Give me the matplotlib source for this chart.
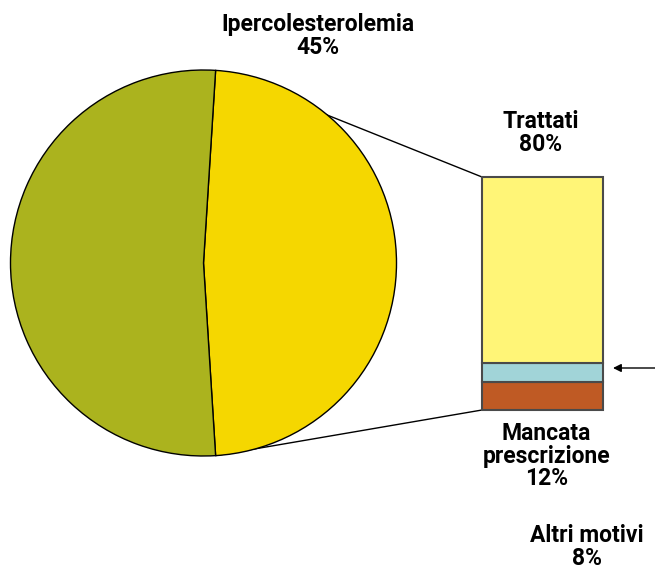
import matplotlib
matplotlib.use("Agg")
import matplotlib.pyplot as plt
from matplotlib.patches import ConnectionPatch
import numpy as np

plt.rcParams['font.family'] = ['Roboto', 'DejaVu Sans']

# Data
pie_labels = ["Ipercolesterolemia", "Altro"]
pie_values = [48, 52]          # drawn share of the wedge
pie_colors = ["#F5D700", "#ABB31E"]
pie_label_text = "Ipercolesterolemia\n45%"

bar_labels = ["Mancata prescrizione", "Altri motivi", "Trattati"]
bar_values = [12, 8, 80]
bar_colors = ["#BF5A24", "#A1D4D8", "#FFF577"]
bar_texts = ["Mancata\nprescrizione\n12%", "Altri motivi\n8%", "Trattati\n80%"]

W, H = 655, 570
fig = plt.figure(figsize=(W / 100, H / 100), dpi=100)

# Pie axes in pixel coordinates (y up)
ax1 = fig.add_axes([0, 0, 1, 1])
ax1.axis('off')

cx, cy, r = 203.5, H - 263, 193
start = -pie_values[0] / 100 * 180
wedges, _ = ax1.pie(pie_values, colors=pie_colors, startangle=start,
                    center=(cx, cy), radius=r, counterclock=True,
                    wedgeprops=dict(edgecolor='black', linewidth=1.0))
ax1.set_xlim(0, W)
ax1.set_ylim(0, H)
ax1.set_aspect('equal')

# Bar axes
bl, bt, bw, bh = 482, 177, 121, 233
ax2 = fig.add_axes([bl / W, (H - bt - bh) / H, bw / W, bh / H])
bottom = 0
for v, c in zip(bar_values, bar_colors):
    ax2.bar(0, v, width=1, bottom=bottom, color=c, edgecolor='#4a4a4a',
            linewidth=1.5, clip_on=False)
    bottom += v
ax2.set_xlim(-0.5, 0.5)
ax2.set_ylim(0, sum(bar_values))
ax2.axis('off')

# Connection lines (drawn behind the pie)
w = wedges[0]
theta1, theta2 = w.theta1, w.theta2
for th, yb in ((theta2, sum(bar_values)), (theta1, 0)):
    x = r * np.cos(np.radians(th)) + cx
    y = r * np.sin(np.radians(th)) + cy
    con = ConnectionPatch(xyA=(-0.5, yb), coordsA=ax2.transData,
                          xyB=(x, y), coordsB=ax1.transData,
                          color='black', linewidth=1.0, zorder=0)
    ax1.add_artist(con)

# Texts
tk = dict(ha='center', va='center', fontsize=16.5, fontweight='bold', linespacing=0.95)
ax1.text(318, H - 36, pie_label_text, **tk)
ax1.text(541, H - 133, bar_texts[2], **tk)
ax1.text(546.5, H - 456, bar_texts[0], **tk)
ax1.text(587, H - 547, bar_texts[1], **tk)

# Arrow pointing at the thin segment
ax1.annotate("", xy=(613, H - 368), xytext=(656, H - 368),
             arrowprops=dict(arrowstyle='-|>', color='black', lw=1.0,
                             mutation_scale=12, shrinkA=0, shrinkB=0))

fig.savefig("out.png", dpi=100)
